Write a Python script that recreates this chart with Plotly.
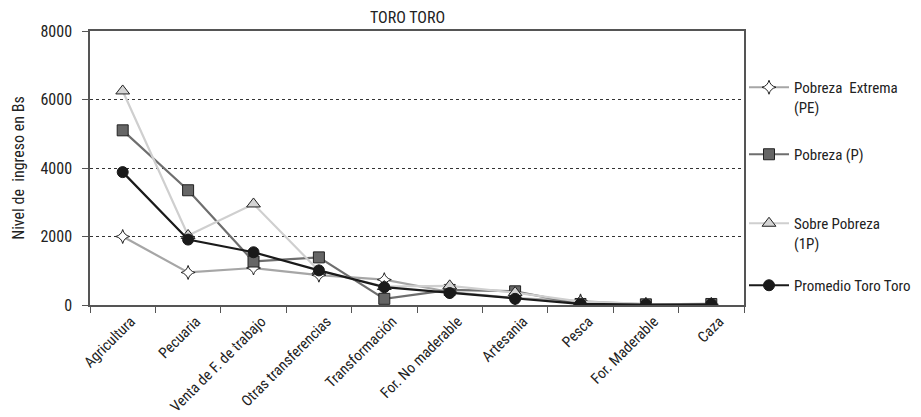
import plotly.graph_objects as go

categories = ["Agricultura", "Pecuaria", "Venta de F. de trabajo", "Otras transferencias",
              "Transformación", "For. No maderable", "Artesania", "Pesca",
              "For. Maderable", "Caza"]

pobreza_extrema = [2000, 950, 1080, 870, 740, 380, 200, 120, 20, 20]
pobreza = [5100, 3350, 1270, 1390, 180, 440, 400, 30, 20, 30]
sobre_pobreza = [6250, 2030, 2950, 1000, 540, 560, 360, 100, 30, 20]
promedio = [3880, 1910, 1540, 1010, 520, 350, 180, 30, 10, 20]

FONT = "Liberation Sans Narrow, Roboto Condensed, Arial Narrow, sans-serif"
FS = 16

# the page body has an 8px margin, so the figure is sized to end at 921x417
W, H = 913, 409
L, T, PW, PH = 82, 23, 654, 274

series = [
    ("Pobreza  Extrema<br>(PE)", pobreza_extrema, "#a6a6a6",
     dict(symbol="star-diamond", size=10, color="white", line=dict(color="#222", width=1))),
    ("Pobreza (P)", pobreza, "#6e6e6e",
     dict(symbol="square", size=11, color="#666666", line=dict(color="#222", width=1))),
    ("Sobre Pobreza<br>(1P)", sobre_pobreza, "#cfcfcf",
     dict(symbol="triangle-up", size=12, color="#d4d4d4", line=dict(color="#222", width=1))),
    ("Promedio Toro Toro", promedio, "#1a1a1a",
     dict(symbol="circle", size=11, color="#1a1a1a", line=dict(color="#1a1a1a", width=1))),
]

# legend item first-line centres (px from page top, as in the reference)
legend_y_px = [88, 155, 224, 286]
legend_names = ["legend", "legend2", "legend3", "legend4"]

fig = go.Figure()
for i, (name, vals, col, mk) in enumerate(series):
    fig.add_trace(go.Scatter(
        x=categories, y=vals, name=name, mode="lines+markers",
        line=dict(color=col, width=2.2), marker=mk, legend=legend_names[i],
    ))

layout_legends = {}
for i, ln in enumerate(legend_names):
    ypx = legend_y_px[i] - 8 - T - 17
    layout_legends[ln] = dict(
        x=1.0, xanchor="left", y=1 - ypx / PH, yanchor="top",
        font=dict(size=15, family=FONT, color="#222"), valign="top",
        itemwidth=40, bgcolor="rgba(0,0,0,0)",
    )

fig.update_layout(
    width=W, height=H,
    margin=dict(l=L, r=W - L - PW, t=T, b=H - T - PH, autoexpand=False),
    paper_bgcolor="white", plot_bgcolor="white",
    font=dict(family=FONT, size=FS, color="#222"),
    showlegend=True,
    **layout_legends,
)
fig.add_annotation(
    text="TORO TORO", xref="paper", yref="paper", x=(407 - 8 - L) / PW, y=1,
    yshift=14, showarrow=False, xanchor="center", yanchor="middle",
    font=dict(size=FS, family=FONT, color="#222"),
)
fig.update_xaxes(
    type="category", showline=True, linecolor="#555", linewidth=1.5, mirror=True,
    ticks="outside", tickson="boundaries", ticklen=6, tickcolor="#555",
    tickangle=-45, showgrid=False, tickfont=dict(size=15), ticklabelshift=8,
    range=[-0.5, 9.5], automargin=False,
)
fig.update_yaxes(
    range=[0, 8000], dtick=2000, showline=True, linecolor="#555", linewidth=1.5, mirror=True,
    ticks="outside", ticklen=6, tickcolor="#555", showgrid=True, gridcolor="#333",
    griddash="dot", gridwidth=1, zeroline=False, tickfont=dict(size=FS),
    ticklabelstandoff=7,
    title=dict(text="Nivel de  ingreso en Bs", font=dict(size=FS), standoff=12),
    automargin=False,
)

fig.write_html("out.html")
